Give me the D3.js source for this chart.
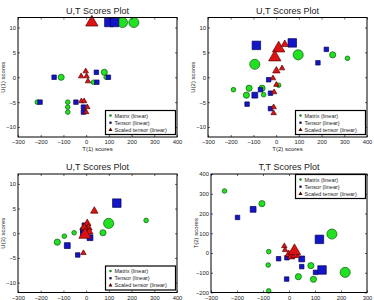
<!DOCTYPE html>
<html>
<head>
<meta charset="utf-8">
<script src="https://cdn.jsdelivr.net/npm/d3@7"></script>
<style>
body { margin: 0; background: #fff; }
svg { display: block; font-family: "Liberation Sans", Arial, sans-serif; }
</style>
</head>
<body>
<svg id="chart" width="374" height="300"></svg>
<script>
// [x, y, size class] for each point
// panel 1: U(1) vs T(1)
let p1Matrix = [[160, 11, 3], [210, 11, 3], [-110, 0, 2], [80, 1, 2], [88, 0, 1], [32, -1, 1],
    [-215, -5, 1], [-81, -5, 1], [-81, -6, 1], [-81, -7, 1]]
let p1Tensor = [[100, 11, 3], [125, 11, 3], [-141, 0, 1], [45, 1, 1], [47, -1, 1], [98, 0, 1],
    [-203, -5, 1], [-45, -5, 1], [-12, -6, 1], [-12, -7, 1]]
let p1Scaled = [[25, 11, 3], [-2, 1.2, 1], [-22, 0.2, 1], [2, 0.2, 1], [8, -0.8, 1],
    [-21, -4.8, 1], [-9, -4.8, 1], [5, -6, 1], [0, -7, 1]]

// panel 2: U(2) vs T(2)
let p2Matrix = [[-94, 2.6, 3], [97, 4.5, 3], [249, 4.5, 2], [314, 3.8, 1], [-188, -2.5, 1],
    [-119, -2.2, 2], [-131, -3.6, 2], [-62, -2.2, 2], [-55, -3.5, 1], [11, -1.6, 1]]
let p2Tensor = [[-87, 6.4, 3], [71, 6.9, 3], [221, 5.6, 1], [184, 2.9, 1], [-33, -0.5, 1],
    [-69, -2.5, 1], [-94, -3.6, 2], [-25, -3.2, 1], [-128, -5.4, 1], [-25, -6.3, 1]]
let p2Scaled = [[11, 5.8, 3], [-6, 4.0, 3], [38, 6.6, 2], [1, 1.3, 2], [26, 1.8, 1],
    [-14, -0.2, 1], [1, -1.5, 1], [-9, -3, 1], [-11, -6, 1], [-11, -7.2, 1]]

// panel 3: U(3) vs T(3)
let p3Matrix = [[99, 2.0, 3], [-127, -1.8, 2], [-96, -0.6, 1], [-53, 0.1, 1], [74, 0.1, 2],
    [264, 2.6, 1], [-17, 0.8, 1]]
let p3Tensor = [[135, 6.1, 3], [-83, -2.5, 2], [-37, -4.4, 1], [17, -0.9, 2], [-15, 0.5, 1],
    [-5, 1.5, 2], [-12, -0.2, 2]]
let p3Scaled = [[36, 4.5, 2], [-12, -4, 1], [5, 2.0, 2], [10, 1.1, 2], [0, 0.7, 2],
    [14, 0.3, 2], [-9, 1.2, 2], [-5, -0.3, 3]]

// panel 4: T(2) vs T(1)
let p4Matrix = [[-248, 314, 1], [-104, 250, 2], [-78, 7, 1], [-80, -61, 1], [-78, -192, 1],
    [165, 96, 3], [216, -98, 3], [36, -120, 2], [84, -64, 2], [94, -133, 2]]
let p4Tensor = [[-198, 180, 1], [-138, 221, 2], [-40, -29, 1], [-8, -24, 1], [-9, -132, 1],
    [49, -30, 2], [49, -69, 1], [102, -98, 1], [117, 69, 3], [127, -86, 3]]
let p4Scaled = [[-18, 35, 1], [-15, 15, 1], [-1, -7, 2], [8, -19, 2], [33, -15, 1],
    [18, -15, 1], [21, 10, 3]]

let seriesNames = ["Matrix (linear)", "Tensor (linear)", "Scaled tensor (linear)"]
let xTicksWide = [-300, -200, -100, 0, 100, 200, 300, 400]
let xTicksT = [-300, -200, -100, 0, 100, 200, 300]
let yTicksU = [-10, -5, 0, 5, 10]
let yTicksT = [-200, -100, 0, 100, 200, 300, 400]

// marker area for size class 1..3, per series
let styles = [
    { shape: d3.symbolCircle, fill: "#22e022", stroke: "#0b5a0b", legFill: "#1a8a1a", areas: [17, 30, 80] },
    { shape: d3.symbolSquare, fill: "#1515c8", stroke: "#05055a", legFill: "#0a0a50", areas: [20, 34, 72] },
    { shape: d3.symbolTriangle, fill: "#dd1111", stroke: "#5a0505", legFill: "#550000", areas: [13, 24, 66] }
]

let svg = d3.select("#chart")

let panels = [
    { box: [18, 17.5, 177, 137], xd: [-300, 400], yd: [-12, 12], xt: xTicksWide, yt: yTicksU,
      title: "U,T Scores Plot", xl: "T(1) scores", yl: "U(1) scores", leg: "bottom",
      data: [p1Matrix, p1Tensor, p1Scaled] },
    { box: [208, 17.5, 367, 137], xd: [-300, 400], yd: [-12, 12], xt: xTicksWide, yt: yTicksU,
      title: "U,T Scores Plot", xl: "T(2) scores", yl: "U(2) scores", leg: "bottom",
      data: [p2Matrix, p2Tensor, p2Scaled] },
    { box: [18, 174, 177, 292.5], xd: [-300, 400], yd: [-12, 12], xt: xTicksWide, yt: yTicksU,
      title: "U,T Scores Plot", xl: null, yl: "U(3) scores", leg: "bottom",
      data: [p3Matrix, p3Tensor, p3Scaled] },
    { box: [211, 174, 367, 292.5], xd: [-300, 300], yd: [-200, 400], xt: xTicksT, yt: yTicksT,
      title: "T,T Scores Plot", xl: null, yl: "T(2) scores", leg: "top",
      data: [p4Matrix, p4Tensor, p4Scaled] }
]

function drawPanel(p) {
    let [x0, y0, x1, y1] = p.box
    let xScale = d3.scaleLinear().domain(p.xd).range([x0, x1])
    let yScale = d3.scaleLinear().domain(p.yd).range([y1, y0])
    let g = svg.append("g")

    // data
    p.data.forEach(function (pts, si) {
        let st = styles[si]
        g.selectAll(null)
            .data(pts)
            .enter()
            .append("path")
            .attr("transform", d => "translate(" + xScale(d[0]) + "," + yScale(d[1]) + ")")
            .attr("d", d => d3.symbol().type(st.shape).size(st.areas[d[2] - 1])())
            .attr("fill", st.fill)
            .attr("stroke", st.stroke)
            .attr("stroke-width", 0.7)
    })

    // axes (ticks inward, box on)
    let fs = "5.8px"
    let bottom = g.append("g").attr("transform", "translate(0," + y1 + ")")
        .call(d3.axisBottom(xScale).tickValues(p.xt).tickSizeInner(-2).tickSizeOuter(0).tickPadding(3))
    let left = g.append("g").attr("transform", "translate(" + x0 + ",0)")
        .call(d3.axisLeft(yScale).tickValues(p.yt).tickSizeInner(-2).tickSizeOuter(0).tickPadding(2))
    let top = g.append("g").attr("transform", "translate(0," + y0 + ")")
        .call(d3.axisTop(xScale).tickValues(p.xt).tickSizeInner(-2).tickSizeOuter(0).tickFormat(""))
    let right = g.append("g").attr("transform", "translate(" + x1 + ",0)")
        .call(d3.axisRight(yScale).tickValues(p.yt).tickSizeInner(-2).tickSizeOuter(0).tickFormat(""))
    ;[bottom, left, top, right].forEach(function (a) {
        a.select(".domain").remove()
        a.selectAll("line").attr("stroke", "#000").attr("stroke-width", 0.6)
        a.selectAll("text").attr("font-size", fs).attr("fill", "#222")
            .attr("font-family", "'Liberation Sans', Arial, sans-serif")
    })
    g.append("rect").attr("x", x0).attr("y", y0).attr("width", x1 - x0).attr("height", y1 - y0)
        .attr("fill", "none").attr("stroke", "#000").attr("stroke-width", 1)

    // title and labels
    g.append("text").attr("x", (x0 + x1) / 2).attr("y", y0 - 4)
        .attr("text-anchor", "middle").attr("font-size", "9px").attr("fill", "#222").text(p.title)
    if (p.xl) {
        g.append("text").attr("x", (x0 + x1) / 2).attr("y", y1 + 14)
            .attr("text-anchor", "middle").attr("font-size", "6px").attr("fill", "#222").text(p.xl)
    }
    g.append("text")
        .attr("transform", "translate(" + (x0 - 13) + "," + ((y0 + y1) / 2) + ") rotate(-90)")
        .attr("text-anchor", "middle").attr("font-size", "6px").attr("fill", "#222").text(p.yl)

    // legend
    let lw = 70, lh = 24
    let lx = x1 - lw - 1.5
    let ly = p.leg == "top" ? y0 + 0.5 : y1 - lh - 2.5
    let leg = g.append("g").attr("transform", "translate(" + lx + "," + ly + ")")
    leg.append("rect").attr("width", lw).attr("height", lh)
        .attr("fill", "#fff").attr("stroke", "#000").attr("stroke-width", 1.2)
    seriesNames.forEach(function (name, i) {
        let st = styles[i]
        let ry = 5 + i * 7.2
        leg.append("path")
            .attr("transform", "translate(5," + ry + ")")
            .attr("d", d3.symbol().type(st.shape).size(i == 2 ? 7 : 5)())
            .attr("fill", st.legFill)
        leg.append("text").attr("x", 9).attr("y", ry + 2)
            .attr("font-size", "5.5px").attr("fill", "#222").text(name)
    })
}

panels.forEach(drawPanel)
</script>
</body>
</html>
